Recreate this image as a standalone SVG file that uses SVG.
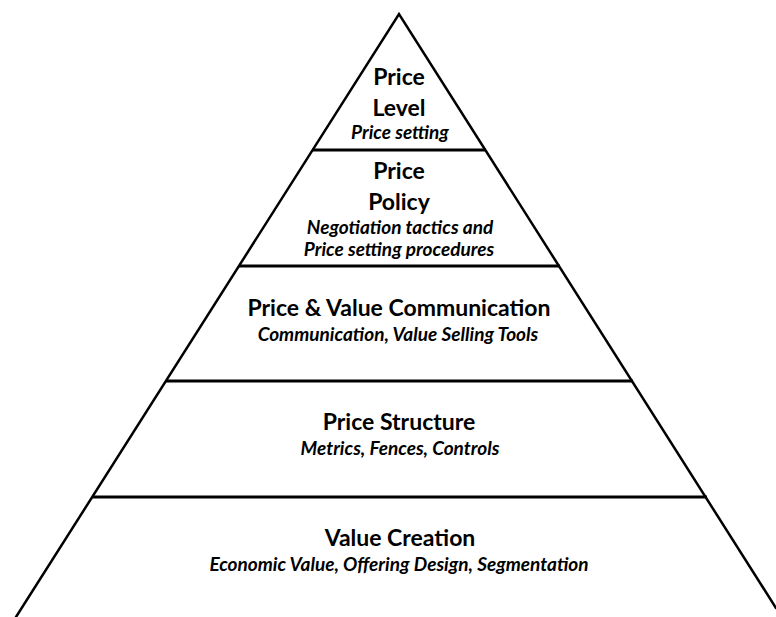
<svg xmlns="http://www.w3.org/2000/svg" width="776" height="617" viewBox="0 0 776 617">
<style>
.side{stroke:#000;stroke-width:2.5;fill:none;stroke-linecap:round}
.tier{stroke:#000;stroke-width:3;fill:none}
.t{font-family:Lato,"Open Sans","Liberation Sans",sans-serif;font-weight:bold;fill:#000;text-anchor:middle}
.h{font-size:23px}
.s{font-size:19px;font-style:italic}
</style>
<rect width="776" height="617" fill="#fff"/>
<g id="connectors">
<path class="side" d="M16,617 L399,14 L776,608"/>
<line class="tier" x1="312" y1="150" x2="486" y2="150"/>
<line class="tier" x1="239" y1="266" x2="560" y2="266"/>
<line class="tier" x1="166" y1="381" x2="633" y2="381"/>
<line class="tier" x1="92" y1="497" x2="707" y2="497"/>
</g>
<g id="price-level">
<text class="t h" x="399" y="85">Price</text>
<text class="t h" x="399" y="116">Level</text>
<text class="t s" x="400" y="138.5">Price setting</text>
</g>
<g id="price-policy">
<text class="t h" x="399" y="178.5">Price</text>
<text class="t h" x="399" y="209.5">Policy</text>
<text class="t s" x="400" y="233.5">Negotiation tactics and</text>
<text class="t s" x="399" y="255.5">Price setting procedures</text>
</g>
<g id="price-value-communication">
<text class="t h" x="399" y="315.5">Price &amp; Value Communication</text>
<text class="t s" x="398" y="340.5">Communication, Value Selling Tools</text>
</g>
<g id="price-structure">
<text class="t h" x="399" y="429.5">Price Structure</text>
<text class="t s" x="400" y="454.5">Metrics, Fences, Controls</text>
</g>
<g id="value-creation">
<text class="t h" x="400" y="545.5">Value Creation</text>
<text class="t s" x="399" y="570.5">Economic Value, Offering Design, Segmentation</text>
</g>
</svg>
